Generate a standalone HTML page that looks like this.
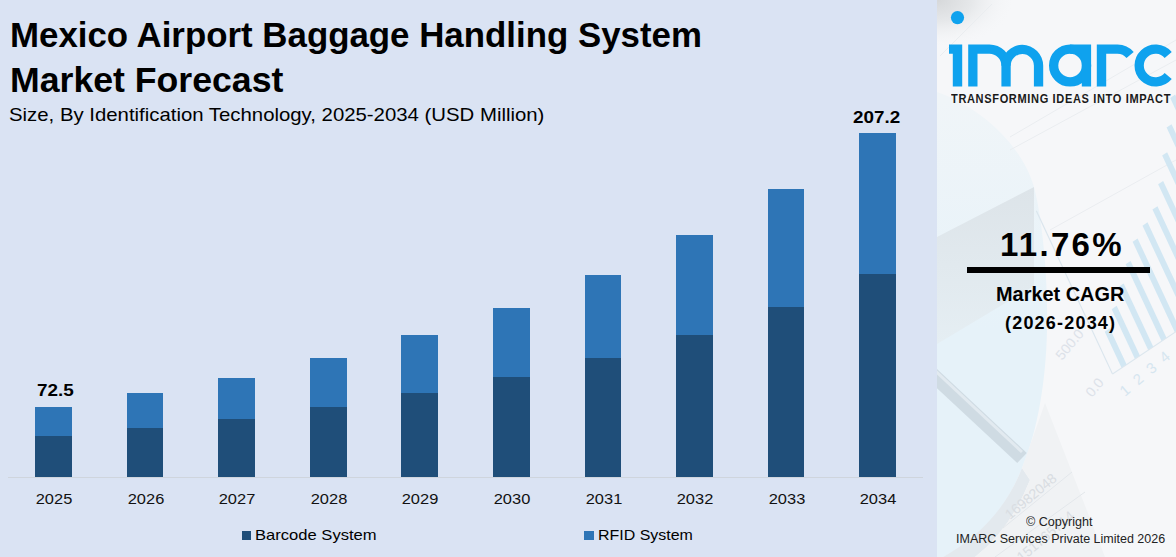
<!DOCTYPE html>
<html><head><meta charset="utf-8">
<style>
html,body{margin:0;padding:0;}
body{width:1176px;height:557px;overflow:hidden;position:relative;background:#dae3f3;font-family:"Liberation Sans",sans-serif;color:#000;}
.t{position:absolute;white-space:nowrap;transform-origin:0 0;line-height:1;}
#left{position:absolute;left:0;top:0;width:937px;height:557px;background:#dae3f3;}
#right{position:absolute;left:937px;top:0;width:239px;height:557px;background:#f4f7fa;overflow:hidden;}
.bar{position:absolute;width:37px;}
.rf{background:#2e75b6;}
.bc{background:#1f4e79;}
.yl{position:absolute;font-size:15.5px;top:491px;width:60px;text-align:center;transform-origin:50% 0;transform:scaleX(1.06);color:#111;}
</style></head>
<body>
<div id="left">
  <div class="t" id="title1" style="left:10px;top:18px;font-size:34.5px;transform:scaleX(1.01);font-weight:bold;">Mexico Airport Baggage Handling System</div>
  <div class="t" id="title2" style="left:10px;top:63px;font-size:34.5px;transform:scaleX(1.033);font-weight:bold;">Market Forecast</div>
  <div class="t" id="sub" style="left:9px;top:105px;font-size:19px;transform:scaleX(1.071);">Size, By Identification Technology, 2025-2034 (USD Million)</div>

  <div style="position:absolute;left:8px;top:477px;width:915px;height:1px;background:#cfd5dd;"></div>

  <div class="bar rf" style="left:35px;top:407px;height:29px"></div><div class="bar bc" style="left:35px;top:436px;height:41px"></div>
  <div class="bar rf" style="width:36px;left:127px;top:393px;height:35px"></div><div class="bar bc" style="width:36px;left:127px;top:428px;height:49px"></div>
  <div class="bar rf" style="left:218px;top:378px;height:41px"></div><div class="bar bc" style="left:218px;top:419px;height:58px"></div>
  <div class="bar rf" style="left:310px;top:358px;height:49px"></div><div class="bar bc" style="left:310px;top:407px;height:70px"></div>
  <div class="bar rf" style="left:401px;top:335px;height:58px"></div><div class="bar bc" style="left:401px;top:393px;height:84px"></div>
  <div class="bar rf" style="left:493px;top:308px;height:69px"></div><div class="bar bc" style="left:493px;top:377px;height:100px"></div>
  <div class="bar rf" style="width:36px;left:585px;top:275px;height:83px"></div><div class="bar bc" style="width:36px;left:585px;top:358px;height:119px"></div>
  <div class="bar rf" style="left:676px;top:235px;height:100px"></div><div class="bar bc" style="left:676px;top:335px;height:142px"></div>
  <div class="bar rf" style="width:36px;left:768px;top:189px;height:118px"></div><div class="bar bc" style="width:36px;left:768px;top:307px;height:170px"></div>
  <div class="bar rf" style="left:859px;top:133px;height:141px"></div><div class="bar bc" style="left:859px;top:274px;height:203px"></div>

  <div class="t" id="v1" style="left:37px;top:382px;font-size:17px;transform:scaleX(1.11);font-weight:bold;">72.5</div>
  <div class="t" id="v2" style="left:853px;top:109px;font-size:17px;transform:scaleX(1.107);font-weight:bold;">207.2</div>

  <div class="t yl" style="left:23.5px;">2025</div>
  <div class="t yl" style="left:115.5px;">2026</div>
  <div class="t yl" style="left:206.5px;">2027</div>
  <div class="t yl" style="left:298.5px;">2028</div>
  <div class="t yl" style="left:389.5px;">2029</div>
  <div class="t yl" style="left:481.5px;">2030</div>
  <div class="t yl" style="left:573.5px;">2031</div>
  <div class="t yl" style="left:664.5px;">2032</div>
  <div class="t yl" style="left:756.5px;">2033</div>
  <div class="t yl" style="left:847.5px;">2034</div>

  <div style="position:absolute;left:242px;top:531px;width:9px;height:9px;background:#1f4e79;"></div>
  <div class="t" id="lg1" style="left:255px;top:527px;font-size:15px;transform:scaleX(1.105);">Barcode System</div>
  <div style="position:absolute;left:584px;top:531px;width:10px;height:9px;background:#2e75b6;"></div>
  <div class="t" id="lg2" style="left:598px;top:527px;font-size:15px;transform:scaleX(1.063);">RFID System</div>
</div>

<div id="right">
<svg id="bg" width="239" height="557" viewBox="937 0 239 557" style="position:absolute;left:0;top:0">
  <defs>
    <radialGradient id="gc" cx="937" cy="0" r="60" gradientUnits="userSpaceOnUse" gradientTransform="translate(937 0) scale(1.3 0.8) translate(-937 0)">
      <stop offset="0" stop-color="#d6d8da"/>
      <stop offset="0.45" stop-color="#e6e8ea"/>
      <stop offset="1" stop-color="#f6f7f9" stop-opacity="0"/>
    </radialGradient>
    <linearGradient id="gb" x1="0" y1="100" x2="0" y2="330" gradientUnits="userSpaceOnUse">
      <stop offset="0" stop-color="#f0f5f8"/>
      <stop offset="1" stop-color="#e6f2f9"/>
    </linearGradient>
  <linearGradient id="gf" x1="0" y1="0" x2="0" y2="1">
      <stop offset="0" stop-color="#dde4e9"/>
      <stop offset="1" stop-color="#e5eef3"/>
    </linearGradient>
  </defs>
  <rect x="937" y="0" width="239" height="557" fill="#f6f7f9"/>
  <rect x="937" y="0" width="80" height="80" fill="url(#gc)"/>
  <path d="M937 92C975 105 1020 140 1034 187C1044 225 1048 290 1047 330C1046 380 1038 430 1022 468C1000 525 960 548 943 557L937 557Z" fill="url(#gb)"/>
  <path d="M1022 468Q1000 525 943 557L975 557Q1010 530 1030 480Z" fill="#e3e9ee"/>
  <path d="M937 237L1034 187L1034 286L937 344Z" fill="url(#gf)"/>
    <g stroke="#eaedf0" stroke-width="1" fill="none">
    <path d="M1010 137L1176 40"/>
    <path d="M992 4L940 56"/>
    <path d="M1010 150L1176 60"/>
    <path d="M1050 230L1176 160"/>
  </g>
  <line x1="930" y1="372" x2="1022" y2="458" stroke="#cfdbe3" stroke-width="14"/>
  <line x1="930" y1="366" x2="1022" y2="452" stroke="#e2eaf0" stroke-width="3"/>
  <path d="M1022 468L1045 403L1105 557L975 557Q1010 530 1030 480Z" fill="#f0f2f4"/>
  <g stroke="#e3e7eb" stroke-width="1"><path d="M1003 528L1072 472"/><path d="M995 557L1085 492"/></g>
  <g transform="matrix(0.832 -0.555 0.423 0.906 1112.5 374)" fill="#d2e7f3">
    <rect x="11" y="-40" width="6" height="40"/>
    <rect x="27" y="-55" width="6" height="55"/>
    <rect x="43" y="-70" width="6" height="70"/>
    <rect x="59" y="-85" width="6" height="85"/>
    <rect x="75" y="-100" width="6" height="100"/>
    <rect x="91" y="-108" width="6" height="108"/>
    <rect x="107" y="-116" width="6" height="116"/>
    <rect x="123" y="-134" width="6" height="134"/>
    <rect x="139" y="-156" width="6" height="156"/>
    <rect x="155" y="-177" width="6" height="177"/>
    <rect x="171" y="-200" width="6" height="200"/>
  </g>
  <g transform="matrix(0.832 -0.555 0.423 0.906 1112.5 374)">
    <line x1="0" y1="0" x2="200" y2="0" stroke="#dbe6ee" stroke-width="1.2"/>
    <line x1="0" y1="0" x2="0" y2="-180" stroke="#dbe6ee" stroke-width="1.2"/>
  </g>
  <g transform="translate(1125 397) rotate(-40)" fill="#d6e6f0" font-family="Liberation Sans" font-size="15"><text x="0" y="0" letter-spacing="9">1234</text></g>
  <g transform="translate(1092 398) rotate(-50)" fill="#dde2e9" font-family="Liberation Sans" font-size="14"><text x="0" y="0">0.0</text></g>
  <g transform="translate(1062 361) rotate(-50)" fill="#dde2e9" font-family="Liberation Sans" font-size="14"><text x="0" y="0">500.0</text></g>
  <g transform="translate(1010 520) rotate(-40)" fill="#d9dde2" font-family="Liberation Sans" font-size="14">
    <text x="0" y="0">16982048</text>
    <text x="-30" y="40">0.151765714</text>
  </g>
</svg>
<svg id="logo" width="239" height="557" viewBox="937 0 239 557" style="position:absolute;left:0;top:0">
  <g fill="#0fa2ee">
    <circle cx="957.5" cy="17.6" r="6.6"/>
    <path d="M949 44.4H962.2V86.6H952.8V53.8H949Z"/>
    <path d="M968.2 44.4H989.45A21.25 21.25 0 0 1 1010.7 65.65V86.6H1001.4V65.65A11.95 11.95 0 0 0 989.45 53.7H977.5V86.6H968.2Z"/>
    <path d="M1001.4 65.65A20.9 20.9 0 0 1 1043.2 65.65V86.6H1033.9V65.65A11.6 11.6 0 0 0 1010.7 65.65Z"/>
  </g>
  <g fill="none" stroke="#0fa2ee" stroke-width="9.3">
    <circle cx="1070.1" cy="65.5" r="16.45"/>
  </g>
  <g fill="#0fa2ee">
    <path d="M1070.1 44.4H1091.1V86.6H1081.8V53.7H1070.1Z"/>
    <path d="M1096.8 44.4H1117.5A21.1 21.1 0 0 1 1133.7 52L1126.5 58A11.8 11.8 0 0 0 1117.5 53.7H1106.2V86.6H1096.8Z"/>
  </g>
  <path d="M1168.2 54.9A16.45 16.45 0 1 0 1168.2 76.1" fill="none" stroke="#0fa2ee" stroke-width="9.3"/>
</svg>
<div class="t" id="tag" style="left:13.5px;top:93px;font-size:12px;font-weight:bold;color:#1a1a1a;letter-spacing:0.7px;transform:scaleX(0.92);">TRANSFORMING IDEAS INTO IMPACT</div>
<div class="t" id="cagr" style="left:63px;top:228px;font-size:33px;font-weight:bold;letter-spacing:2.3px;">11.76%</div>
<div style="position:absolute;left:30px;top:267px;width:183px;height:5.5px;background:#000;"></div>
<div class="t" id="mc" style="left:59px;top:284px;font-size:20px;font-weight:bold;transform:scaleX(0.995);">Market CAGR</div>
<div class="t" id="yrs" style="left:68px;top:314px;font-size:18px;font-weight:bold;letter-spacing:1.2px;">(2026-2034)</div>
<div class="t" id="cp1" style="left:89px;top:516px;font-size:12px;color:#222;transform:scaleX(1.048);">&copy; Copyright</div>
<div class="t" id="cp2" style="left:19px;top:533px;font-size:12px;color:#222;transform:scaleX(1.042);">IMARC Services Private Limited 2026</div>
</div>
</body></html>
